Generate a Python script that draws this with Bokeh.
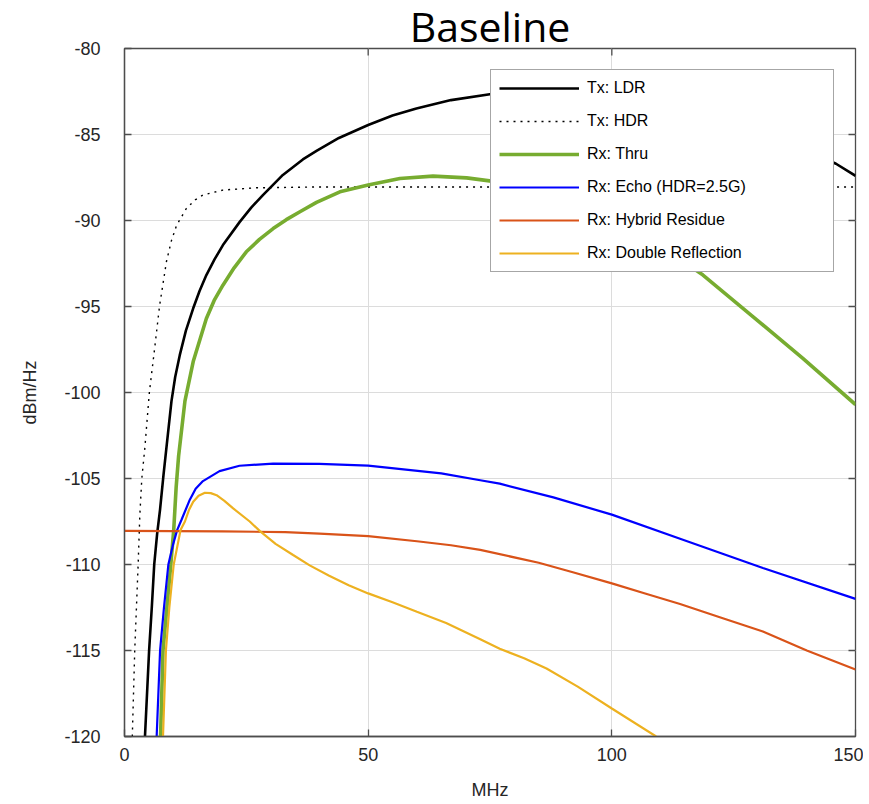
from bokeh.plotting import figure
from bokeh.models import Range1d, Legend, LegendItem, FixedTicker
from bokeh.embed import file_html
from bokeh.resources import INLINE

# ---- data (MHz, dBm/Hz) ----
ldr_x = [4.2, 5.05, 5.6, 6.1, 6.7, 7.3, 8.0, 8.8, 9.64, 10.4, 11.34, 12.6, 14.08, 15.4, 16.8, 18.5, 20.2, 23.65, 26, 28.4, 32.5, 36.6, 39.4, 44, 50, 55, 59.9, 67, 75.3, 90, 105, 120, 135, 146, 150]
ldr_y = [-120, -115, -112.5, -110, -108.2, -106.8, -104.8, -102.7, -100.5, -99.1, -97.83, -96.4, -95.12, -94.1, -93.17, -92.25, -91.43, -90.08, -89.25, -88.52, -87.35, -86.45, -85.95, -85.2, -84.45, -83.9, -83.49, -83.0, -82.65, -82.4, -82.8, -83.8, -85.3, -86.7, -87.4]

hdr_x = [1.6, 2.1, 2.8, 3.15, 3.55, 4.15, 5.1, 6.2, 7.2, 8.6, 9.6, 10.7, 12.7, 14.5, 16.1, 20.2, 27, 40, 150]
hdr_y = [-120, -115, -110, -107.1, -105, -103.3, -100, -97.4, -94.95, -92.4, -91.2, -90.27, -89.3, -88.8, -88.52, -88.23, -88.1, -88.05, -88.05]

thru_x = [7.4, 7.9, 8.7, 9.5, 10.1, 10.6, 11.1, 12.4, 14.1, 16.8, 18.4, 20.2, 22.5, 25.0, 27.7, 30.5, 33.2, 36.0, 39.4, 44.2, 50, 56.5, 63.3, 70.2, 75.3, 90, 105, 118.7, 129, 139.2, 150]
thru_y = [-120, -115, -112.5, -110, -108, -105.5, -103.7, -100.5, -98.2, -95.7, -94.65, -93.76, -92.75, -91.82, -91.1, -90.47, -89.95, -89.49, -88.95, -88.33, -87.94, -87.56, -87.42, -87.52, -87.71, -88.5, -90.5, -93.17, -95.6, -98.02, -100.7]

echo_x = [6.6, 7.3, 8.1, 9.0, 10.0, 10.8, 11.7, 13.3, 14.6, 16.1, 19.5, 23.6, 30.5, 40, 50, 65, 73, 77, 88, 100, 114, 131, 150]
echo_y = [-120, -115, -112.5, -110, -108.8, -108, -107.4, -106.3, -105.6, -105.15, -104.57, -104.26, -104.13, -104.15, -104.25, -104.7, -105.1, -105.3, -106.1, -107.1, -108.5, -110.2, -112.0]

hyb_x = [0, 20, 33, 40, 50, 60, 67, 73, 85, 92, 100, 107, 114, 122, 131, 140, 150]
hyb_y = [-108.05, -108.07, -108.12, -108.2, -108.35, -108.65, -108.88, -109.15, -109.9, -110.45, -111.1, -111.7, -112.3, -113.05, -113.9, -115.0, -116.1]

dbl_x = [7.9, 8.5, 9.2, 10.1, 11.5, 12.4, 13.2, 14.1, 15.2, 16.5, 17.7, 18.9, 20.5, 22.3, 25.7, 27.8, 31, 34.6, 38, 42, 46, 50, 55, 60, 66, 73, 77, 82, 86.6, 93, 100, 109.1]
dbl_y = [-120, -115, -112.5, -110, -108, -107.5, -106.85, -106.35, -106.0, -105.83, -105.85, -105.97, -106.3, -106.74, -107.5, -108.06, -108.8, -109.45, -110.05, -110.65, -111.2, -111.68, -112.2, -112.75, -113.4, -114.34, -114.9, -115.45, -116.05, -117.1, -118.37, -120]

x_ticks = [0, 50, 100, 150]
y_ticks = [-120, -115, -110, -105, -100, -95, -90, -85, -80]

FONT = "Liberation Sans"
AX = "#262626"
BOX = "#4d4d4d"

p = figure(frame_width=731, frame_height=688,
           x_range=Range1d(0, 150), y_range=Range1d(-120, -80),
           output_backend="svg", toolbar_location=None,
           min_border_left=124, min_border_top=0, min_border_right=8, min_border_bottom=0)
p.outline_line_color = BOX
p.outline_line_width = 1.3

p.title.text = "Baseline"
p.title.align = "center"
p.title.text_font = "Open Sans"
p.title.text_font_size = "41px"
p.title.text_font_style = "normal"
p.title.text_color = "black"
p.title.standoff = -10
p.title.text_line_height = 0.85

for ax in (p.xaxis[0], p.yaxis[0]):
    ax.major_tick_in = 7
    ax.major_tick_out = 0
    ax.minor_tick_line_color = None
    ax.axis_line_color = BOX
    ax.axis_line_width = 1.3
    ax.major_tick_line_color = BOX
    ax.major_tick_line_width = 1.3
    ax.major_label_text_font = FONT
    ax.major_label_text_font_size = "18px"
    ax.major_label_text_color = AX
    ax.axis_label_text_font = FONT
    ax.axis_label_text_font_size = "18px"
    ax.axis_label_text_font_style = "normal"
    ax.axis_label_text_color = AX

p.xaxis[0].ticker = FixedTicker(ticks=x_ticks)
p.yaxis[0].ticker = FixedTicker(ticks=y_ticks)
p.xaxis[0].major_label_overrides = {t: str(t) for t in x_ticks}
p.yaxis[0].major_label_overrides = {t: str(t) for t in y_ticks}
p.xaxis[0].axis_label = "MHz"
p.yaxis[0].axis_label = "dBm/Hz"
p.xaxis[0].major_label_standoff = 11
p.xaxis[0].axis_label_standoff = 16
p.yaxis[0].major_label_standoff = 24
p.yaxis[0].axis_label_standoff = 21

p.xgrid.ticker = FixedTicker(ticks=x_ticks)
p.ygrid.ticker = FixedTicker(ticks=y_ticks)
p.grid.grid_line_color = "#dcdcdc"
p.grid.grid_line_width = 1

# inward tick marks on the top and right sides of the box (7 px long)
tx = x_ticks[1:-1]
p.segment(x0=tx, x1=tx, y0=[-80] * len(tx), y1=[-80 - 7 * 40 / 688] * len(tx),
          line_color=BOX, line_width=1.3)
ty = y_ticks[1:-1]
p.segment(x0=[150] * len(ty), x1=[150 - 7 * 150 / 731] * len(ty), y0=ty, y1=ty,
          line_color=BOX, line_width=1.3)

r1 = p.line(ldr_x, ldr_y, line_color="black", line_width=2.6)
r2 = p.line(hdr_x, hdr_y, line_color="black", line_width=1.4, line_dash="2 5")
r3 = p.line(thru_x, thru_y, line_color="#77AC30", line_width=3.6)
r4 = p.line(echo_x, echo_y, line_color="#0000FF", line_width=2.2)
r5 = p.line(hyb_x, hyb_y, line_color="#D95319", line_width=2.2)
r6 = p.line(dbl_x, dbl_y, line_color="#EDB120", line_width=2.2)

legend = Legend(items=[
    LegendItem(label="Tx: LDR", renderers=[r1]),
    LegendItem(label="Tx: HDR", renderers=[r2]),
    LegendItem(label="Rx: Thru", renderers=[r3]),
    LegendItem(label="Rx: Echo (HDR=2.5G)", renderers=[r4]),
    LegendItem(label="Rx: Hybrid Residue", renderers=[r5]),
    LegendItem(label="Rx: Double Reflection", renderers=[r6]),
], location="top_right")
legend.margin = 21
legend.padding = 8
legend.spacing = 13
legend.glyph_width = 80
legend.glyph_height = 20
legend.label_height = 20
legend.label_width = 238
legend.label_standoff = 8
legend.label_text_font = FONT
legend.label_text_font_size = "16px"
legend.label_text_color = "black"
legend.border_line_color = BOX
legend.border_line_width = 1.3
legend.background_fill_alpha = 1.0
p.add_layout(legend, "center")

open("out.html", "w").write(file_html(p, INLINE))
